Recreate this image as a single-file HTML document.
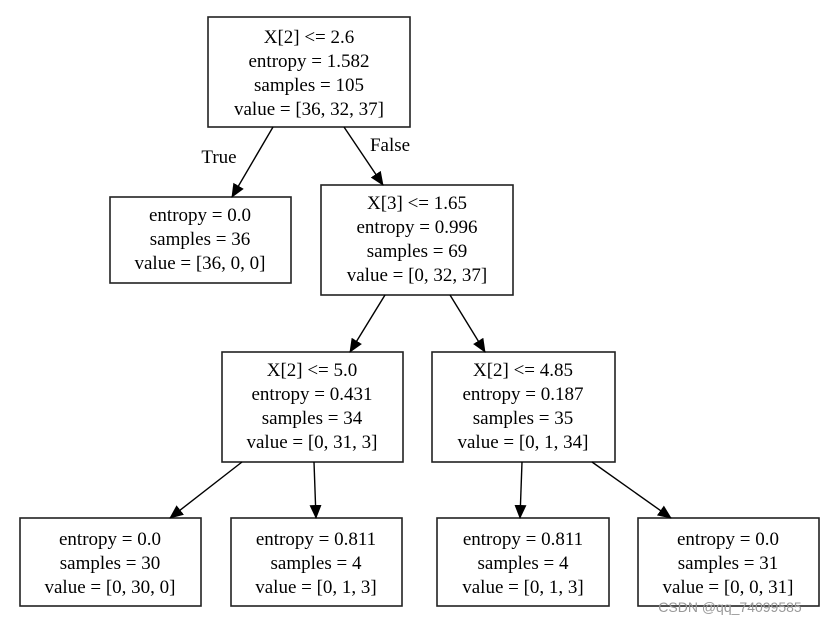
<!DOCTYPE html>
<html><head><meta charset="utf-8"><style>
html,body{margin:0;padding:0;background:#fff;}
svg text{font-family:"Liberation Serif",serif;font-size:19px;fill:#000;text-anchor:middle;}
</style></head><body>
<svg width="830" height="625" viewBox="0 0 830 625" xmlns="http://www.w3.org/2000/svg">
<defs><marker id="a" markerWidth="10" markerHeight="10" refX="9" refY="5" orient="auto" markerUnits="userSpaceOnUse" viewBox="0 0 10 10"><path d="M0,0 L10,5 L0,10 z" fill="#000"/></marker>
<marker id="b" markerWidth="14" markerHeight="14" refX="13" refY="7" orient="auto" markerUnits="userSpaceOnUse" viewBox="0 0 14 14"><path d="M0,1 L14,7 L0,13 z" fill="#000"/></marker></defs>
<g fill="none" stroke="#222" stroke-width="1.6">
<rect x="208" y="17" width="202" height="110"/>
<rect x="110" y="197" width="181" height="86"/>
<rect x="321" y="185" width="192" height="110"/>
<rect x="222" y="352" width="181" height="110"/>
<rect x="432" y="352" width="183" height="110"/>
<rect x="20" y="518" width="181" height="88"/>
<rect x="231" y="518" width="171" height="88"/>
<rect x="437" y="518" width="172" height="88"/>
<rect x="638" y="518" width="181" height="88"/>
</g>
<g stroke="#000" stroke-width="1.4" marker-end="url(#b)">
<line x1="273" y1="127" x2="232" y2="197"/>
<line x1="344" y1="127" x2="383" y2="185"/>
<line x1="385" y1="295" x2="350" y2="352"/>
<line x1="450" y1="295" x2="485" y2="352"/>
<line x1="242" y1="462" x2="170" y2="518"/>
<line x1="314" y1="462" x2="316" y2="518"/>
<line x1="522" y1="462" x2="520" y2="518"/>
<line x1="592" y1="462" x2="671" y2="518"/>
</g>
<text x="219" y="163">True</text>
<text x="390" y="151">False</text>
<text x="309" y="43">X[2] &lt;= 2.6</text>
<text x="309" y="67">entropy = 1.582</text>
<text x="309" y="91">samples = 105</text>
<text x="309" y="115">value = [36, 32, 37]</text>
<text x="200" y="221">entropy = 0.0</text>
<text x="200" y="245">samples = 36</text>
<text x="200" y="269">value = [36, 0, 0]</text>
<text x="417" y="209">X[3] &lt;= 1.65</text>
<text x="417" y="233">entropy = 0.996</text>
<text x="417" y="257">samples = 69</text>
<text x="417" y="281">value = [0, 32, 37]</text>
<text x="312" y="376">X[2] &lt;= 5.0</text>
<text x="312" y="400">entropy = 0.431</text>
<text x="312" y="424">samples = 34</text>
<text x="312" y="448">value = [0, 31, 3]</text>
<text x="523" y="376">X[2] &lt;= 4.85</text>
<text x="523" y="400">entropy = 0.187</text>
<text x="523" y="424">samples = 35</text>
<text x="523" y="448">value = [0, 1, 34]</text>
<text x="110" y="545">entropy = 0.0</text>
<text x="110" y="569">samples = 30</text>
<text x="110" y="593">value = [0, 30, 0]</text>
<text x="316" y="545">entropy = 0.811</text>
<text x="316" y="569">samples = 4</text>
<text x="316" y="593">value = [0, 1, 3]</text>
<text x="523" y="545">entropy = 0.811</text>
<text x="523" y="569">samples = 4</text>
<text x="523" y="593">value = [0, 1, 3]</text>
<text x="728" y="545">entropy = 0.0</text>
<text x="728" y="569">samples = 31</text>
<text x="728" y="593">value = [0, 0, 31]</text>
<text x="730" y="612" style="font-family:'Liberation Sans',sans-serif;font-size:14px;fill:#999">CSDN @qq_74099585</text>
</svg>
</body></html>
